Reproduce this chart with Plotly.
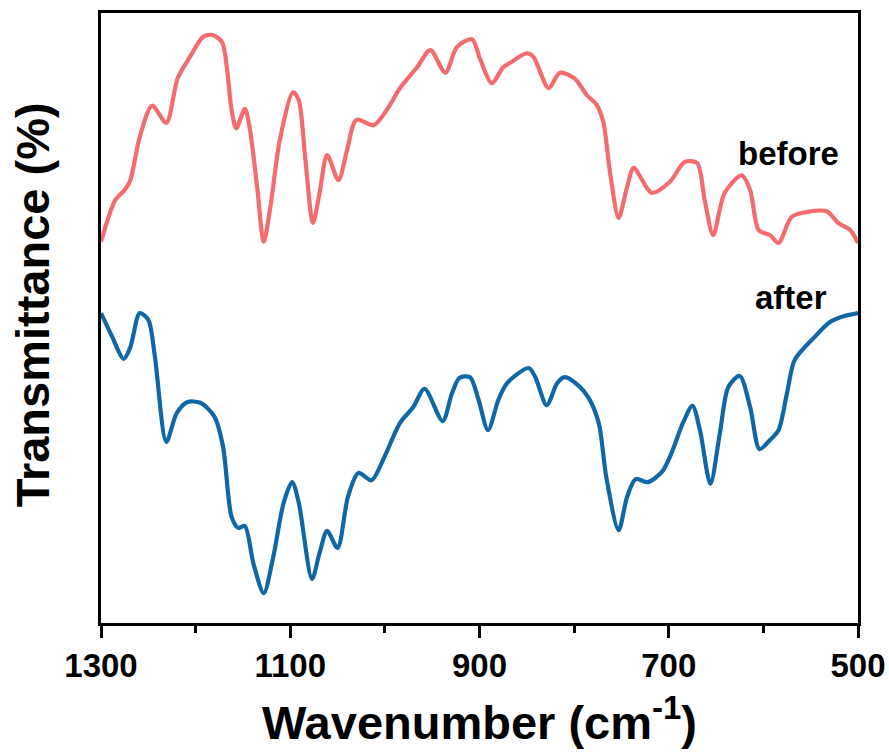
import plotly.graph_objects as go

# Wavenumber (cm-1) and transmittance (arbitrary units, 0-100)
before_wn = [1300, 1285, 1275, 1269, 1259, 1246, 1231, 1219, 1206, 1192, 1182, 1172, 1167,
             1162, 1157, 1148, 1143, 1135, 1128, 1121, 1111, 1097, 1091, 1084, 1076, 1069,
             1061, 1049, 1040, 1030, 1012, 998, 984, 966, 952, 936, 924, 908, 899, 887, 875,
             868, 850, 843, 827, 815, 799, 787, 776, 769, 762, 753, 744, 737, 718, 699, 683,
             670, 662, 653, 641, 623, 614, 605, 593, 584, 570, 553, 533, 521, 508, 500]
before_t = [62.5, 69.3, 71.0, 72.6, 79.7, 84.8, 82.0, 89.3, 92.8, 96.1, 96.4, 95.2, 91.1,
            84.1, 81.1, 84.3, 81.3, 71.5, 62.5, 68.2, 79.2, 87.0, 85.7, 75.9, 65.6, 70.5,
            76.7, 72.6, 77.5, 82.5, 81.6, 84.1, 87.7, 91.1, 93.9, 90.2, 94.4, 95.7, 92.3, 88.5, 91.1,
            91.8, 93.4, 92.8, 87.7, 90.2, 89.2, 86.6, 84.9, 82.0, 73.8, 66.4, 71.5, 74.6, 70.5, 72.3, 75.6,
            75.4, 69.3, 63.6, 70.5, 73.4, 71.0, 64.4, 63.6, 62.3, 66.6, 67.4, 67.5, 65.6, 64.4, 62.3]

after_wn = [1300, 1289, 1276, 1269, 1259, 1250, 1243, 1231, 1220, 1209, 1195, 1180, 1171,
            1162, 1155, 1148, 1139, 1128, 1118, 1107, 1098, 1091, 1077, 1069, 1061, 1050,
            1039, 1028, 1014, 1002, 984, 970, 958, 939, 929, 921, 910, 901, 891, 880, 871,
            848, 841, 829, 818, 810, 796, 785, 774, 766, 753, 744, 735, 722, 707, 697, 685,
            675, 667, 656, 646, 637, 625, 614, 604, 593, 584, 575, 567, 547, 530, 517, 500]
after_t = [50.8, 47.2, 43.3, 45.2, 50.8, 49.7, 43.6, 29.7, 34.4, 36.2, 36.1, 33.8, 28.9,
           17.4, 15.6, 15.9, 9.8, 4.9, 10.8, 19.7, 23.1, 19.7, 7.2, 11.5, 15.1, 12.3,
           20.7, 24.6, 23.4, 26.7, 32.8, 35.4, 38.4, 33.1, 37.7, 40.2, 40.3, 36.6, 31.6, 36.6, 39.3,
           41.8, 40.3, 35.7, 39.3, 40.3, 39.0, 37.0, 32.8, 23.9, 15.2, 20.7, 23.6, 23.1, 24.8, 27.9, 32.8,
           35.6, 31.6, 22.8, 31.1, 38.7, 40.5, 35.4, 28.5, 30.0, 31.6, 37.7, 43.1, 46.7, 49.3, 50.2, 50.8]

tick_vals = [1300, 1100, 900, 700, 500]
tick_text = ["1300", "1100", "900", "700", "500"]
labels = ["before", "after"]
label_pos = [(573, 77.0), (571, 53.3)]

FONT = "Liberation Sans, Arial, Helvetica, sans-serif"

fig = go.Figure()
fig.add_trace(go.Scatter(x=before_wn, y=before_t, mode="lines", name="before",
                         line=dict(color="#F56A6A", width=4.2, shape="spline", smoothing=0.8)))
fig.add_trace(go.Scatter(x=after_wn, y=after_t, mode="lines", name="after",
                         line=dict(color="#0F67A8", width=4.2, shape="spline", smoothing=0.8)))

for lab, (lx, ly) in zip(labels, label_pos):
    fig.add_annotation(x=lx, y=ly, xref="x", yref="y", text=lab, showarrow=False,
                       font=dict(family=FONT, size=33, color="black", weight="bold"))

fig.add_annotation(x=0.5, y=-0.157, xref="paper", yref="paper",
                   text="Wavenumber (cm<sup>-1</sup>)", showarrow=False,
                   xanchor="center", yanchor="middle",
                   font=dict(family=FONT, size=47, color="black", weight="bold"))
fig.add_annotation(x=-0.0911, y=0.521, xref="paper", yref="paper",
                   text="Transmittance (%)", showarrow=False, textangle=-90,
                   xanchor="center", yanchor="middle",
                   font=dict(family=FONT, size=47, color="black", weight="bold"))

fig.update_layout(
    width=889, height=753,
    margin=dict(l=101, r=31, t=13, b=130, autoexpand=False),
    paper_bgcolor="white", plot_bgcolor="white",
    showlegend=False,
    xaxis=dict(range=[1300, 500], tickvals=tick_vals, ticktext=tick_text, automargin=False,
               showline=True, linecolor="black", linewidth=2.5, mirror=True,
               ticks="outside", ticklen=12, tickwidth=2.5, tickcolor="black",
               showgrid=False, zeroline=False,
               tickfont=dict(family=FONT, size=33, color="black", weight="bold"),
               minor=dict(ticks="outside", ticklen=7, tickwidth=2.5, tickcolor="black",
                          tickvals=[1200, 1000, 800, 600], showgrid=False)),
    yaxis=dict(range=[0, 100], automargin=False, showline=True, linecolor="black",
               linewidth=2.5, mirror=True,
               ticks="", showticklabels=False, showgrid=False, zeroline=False),
)

fig.write_html("out.html")
